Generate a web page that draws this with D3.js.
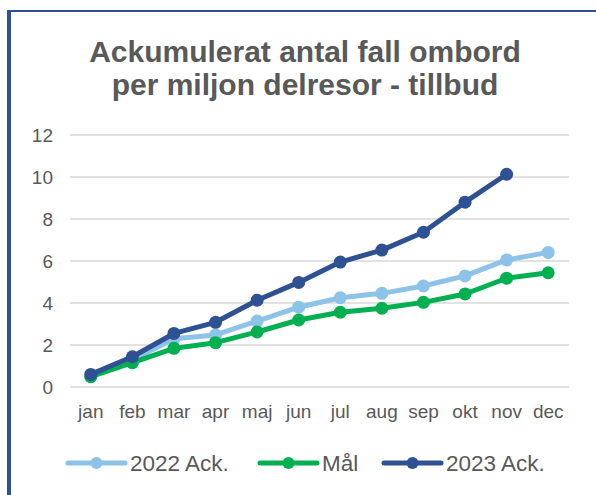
<!DOCTYPE html>
<html>
<head>
<meta charset="utf-8">
<script src="https://cdn.jsdelivr.net/npm/d3@7"></script>
<style>
  body { margin: 0; background: #fff; }
  text { font-family: "Liberation Sans", Arial, sans-serif; fill: #595959; }
</style>
</head>
<body>
<svg id="chart"></svg>
<script>
// chart data
var months = ["jan", "feb", "mar", "apr", "maj", "jun", "jul", "aug", "sep", "okt", "nov", "dec"];
var yTicks = [0, 2, 4, 6, 8, 10, 12];
var ack2022 = [0.5, 1.3, 2.3, 2.48, 3.14, 3.8, 4.25, 4.46, 4.81, 5.29, 6.05, 6.41];
var maal = [0.49, 1.16, 1.84, 2.11, 2.62, 3.19, 3.56, 3.75, 4.03, 4.43, 5.18, 5.44];
var ack2023 = [0.6, 1.44, 2.55, 3.08, 4.13, 4.98, 5.95, 6.52, 7.37, 8.8, 10.13];
var seriesNames = ["2022 Ack.", "Mål", "2023 Ack."];
var seriesColors = ["#8DC3E8", "#00B050", "#2E5193"];
var titleLines = ["Ackumulerat antal fall ombord", "per miljon delresor - tillbud"];

var width = 596, height = 495;

var svg = d3.select("#chart")
  .attr("width", width)
  .attr("height", height);

svg.append("rect").attr("width", width).attr("height", height).attr("fill", "#fff");

// frame lines (left + top)
svg.append("rect").attr("x", 7).attr("y", 10).attr("width", 4).attr("height", height - 10).attr("fill", "#2E5193");
svg.append("rect").attr("x", 7).attr("y", 10).attr("width", width - 7).attr("height", 2).attr("fill", "#2E5193");

// title
svg.append("g").selectAll("text")
  .data(titleLines)
  .enter().append("text")
  .attr("x", 305)
  .attr("y", (d, i) => 62 + i * 33)
  .attr("text-anchor", "middle")
  .style("font-family", "'Liberation Sans Narrow', 'Arial Narrow', sans-serif")
  .style("font-weight", "bold")
  .style("font-size", "30px")
  .text(d => d);

var xScale = d3.scaleBand().domain(months).range([70, 569]).padding(0);
var yScale = d3.scaleLinear().domain([0, 12]).range([387, 135]);

// gridlines
svg.append("g").selectAll("line")
  .data(yTicks)
  .enter().append("line")
  .attr("x1", 70).attr("x2", 569)
  .attr("y1", d => yScale(d)).attr("y2", d => yScale(d))
  .attr("stroke", "#D9D9D9")
  .attr("stroke-width", 1.5);

// y axis labels
var yAxis = svg.append("g")
  .attr("transform", "translate(61,0)")
  .call(d3.axisLeft(yScale).tickValues(yTicks).tickSize(0).tickPadding(8));
yAxis.select(".domain").remove();
yAxis.selectAll("text")
  .style("font-size", "19px")
  .style("font-family", "'Liberation Sans', Arial, sans-serif")
  .attr("fill", "#595959");

// x axis labels
var xAxis = svg.append("g")
  .attr("transform", "translate(0,397)")
  .call(d3.axisBottom(xScale).tickSize(0).tickPadding(8));
xAxis.select(".domain").remove();
xAxis.selectAll("text")
  .style("font-size", "19px")
  .style("font-family", "'Liberation Sans', Arial, sans-serif")
  .attr("fill", "#595959");

var allSeries = [ack2022, maal, ack2023];

var line = d3.line()
  .x((d, i) => xScale(months[i]) + xScale.bandwidth() / 2)
  .y(d => yScale(d));

allSeries.forEach(function(values, s) {
  var g = svg.append("g").attr("class", "series");
  g.append("path")
    .attr("d", line(values))
    .attr("fill", "none")
    .attr("stroke", seriesColors[s])
    .attr("stroke-width", 5)
    .attr("stroke-linejoin", "round");
  g.selectAll("circle")
    .data(values)
    .enter().append("circle")
    .attr("cx", (d, i) => xScale(months[i]) + xScale.bandwidth() / 2)
    .attr("cy", d => yScale(d))
    .attr("r", 6.5)
    .attr("fill", seriesColors[s]);
});

// legend
var legendX = [68, 260, 384];
var legend = svg.append("g").selectAll("g")
  .data(seriesNames)
  .enter().append("g")
  .attr("transform", (d, i) => "translate(" + legendX[i] + ",463)");

legend.append("line")
  .attr("x1", 0).attr("x2", 57)
  .attr("y1", 0).attr("y2", 0)
  .attr("stroke", (d, i) => seriesColors[i])
  .attr("stroke-width", 5)
  .attr("stroke-linecap", "round");
legend.append("circle")
  .attr("cx", 28.5).attr("cy", 0).attr("r", 6)
  .attr("fill", (d, i) => seriesColors[i]);
legend.append("text")
  .attr("x", 62).attr("y", 8)
  .style("font-size", "22.5px")
  .text(d => d);
</script>
</body>
</html>
